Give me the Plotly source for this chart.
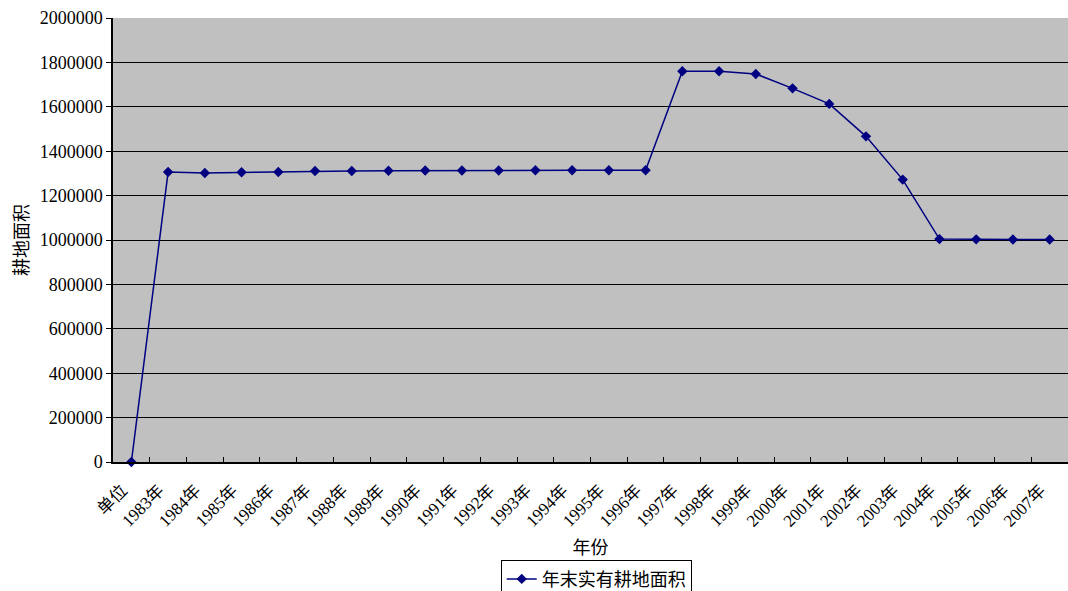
import plotly.graph_objects as go

# Year-end cultivated land area (耕地面积)
categories = ["单位"] + [f"{y}年" for y in range(1983, 2008)]
area = [
    0,
    1306000, 1302000, 1305000, 1306000, 1311000, 1311000, 1312000,
    1313000, 1313000, 1313000, 1314000, 1314000, 1314000, 1314000,
    1760000, 1760000, 1748000, 1683000, 1613000, 1467000, 1272000,
    1004000, 1003000, 1002000, 1002000,
]
y_ticks = list(range(0, 2000001, 200000))

FONT = "'Liberation Serif', 'Noto Sans CJK SC', serif"

fig = go.Figure(
    go.Scatter(
        x=categories,
        y=area,
        mode="lines+markers",
        name="年末实有耕地面积",
        line=dict(color="#000080", width=1.5),
        marker=dict(symbol="diamond", size=8, color="#000080"),
        cliponaxis=False,
    )
)

fig.update_layout(
    width=1068,
    height=591,
    margin=dict(l=113, r=0, t=18, b=129),
    paper_bgcolor="white",
    plot_bgcolor="#C0C0C0",
    font=dict(family=FONT, size=17, color="black"),
    showlegend=True,
    legend=dict(
        orientation="h",
        x=0.506,
        xanchor="center",
        yref="container",
        y=0.053,
        yanchor="top",
        bordercolor="black",
        borderwidth=1,
        bgcolor="white",
        font=dict(size=18),
        itemwidth=30,
    ),
)

fig.update_xaxes(
    type="category",
    range=[-0.5, len(categories) - 0.5],
    automargin=False,
    tickangle=-45,
    ticks="inside",
    ticklen=5,
    tickcolor="black",
    tickson="boundaries",
    ticklabelstandoff=10,
    ticklabelshift=-9,
    showgrid=False,
    showline=True,
    linecolor="black",
    linewidth=1.5,
    title=dict(text="年份", font=dict(size=18), standoff=12),
    tickfont=dict(size=17),
)

fig.update_yaxes(
    range=[0, 2000000],
    automargin=False,
    tickvals=y_ticks,
    ticktext=[str(v) for v in y_ticks],
    ticks="outside",
    ticklen=5,
    tickcolor="black",
    showgrid=True,
    gridcolor="black",
    gridwidth=1,
    showline=True,
    linecolor="black",
    linewidth=1.5,
    zeroline=False,
    title=dict(text="耕地面积", font=dict(size=18), standoff=6),
    tickfont=dict(size=18),
)

fig.write_html("out.html")
